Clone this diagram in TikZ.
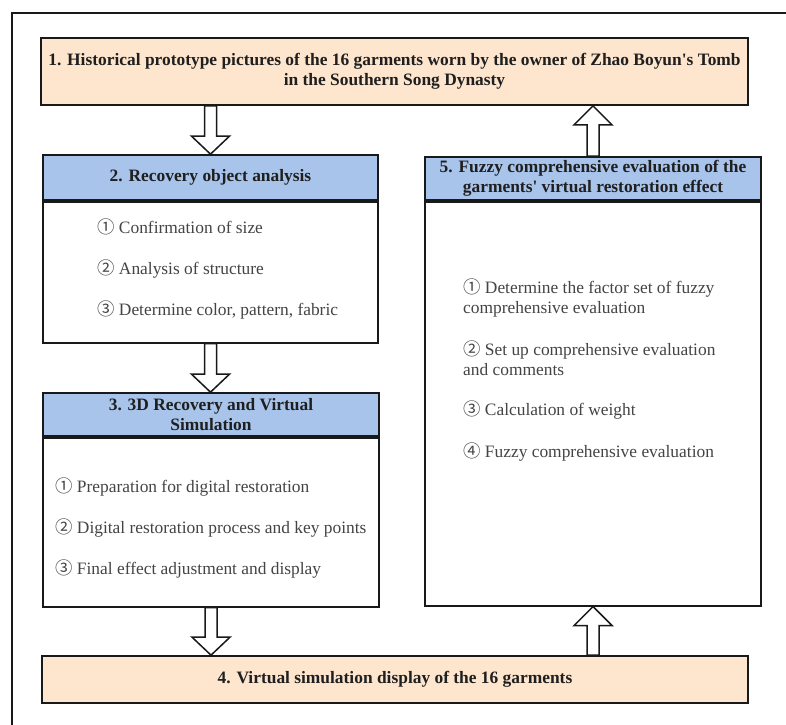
\documentclass[tikz,border=0pt]{standalone}
\usepackage{fontspec}
\setmainfont{Liberation Serif}[Ligatures=TeXOff]
\newfontfamily\circfont{Noto Sans CJK SC}
\usetikzlibrary{calc}
\definecolor{peach}{RGB}{253,229,206}
\definecolor{headblue}{RGB}{169,196,235}
\definecolor{itemgray}{RGB}{68,68,68}
\definecolor{edge}{RGB}{25,25,25}
\newcommand{\cnum}[1]{{\circfont #1}}

\begin{document}
\begin{tikzpicture}[x=1pt, y=-1pt,
    box/.style={rectangle, draw=edge, line width=1.7pt, inner sep=0pt},
    head/.style={box, fill=headblue, align=center, text=black!88, font=\fontsize{17.4}{20}\selectfont\bfseries},
    band/.style={box, fill=peach, align=center, text=black!88, font=\fontsize{17.4}{20}\selectfont\bfseries},
    body/.style={box, fill=white},
    items/.style={anchor=base west, align=left, inner sep=0pt, text=itemgray, font=\fontsize{17.4}{20}\selectfont},
    fatdown/.style={draw=edge, line width=1.5pt, fill=white, to path={
        ($(\tikztostart)+(-6,0)$) -- ($(\tikztotarget)+(-6,-18)$) -- ($(\tikztotarget)+(-19,-18)$)
        -- (\tikztotarget) -- ($(\tikztotarget)+(19,-18)$) -- ($(\tikztotarget)+(6,-18)$)
        -- ($(\tikztostart)+(6,0)$) -- cycle}},
    fatup/.style={draw=edge, line width=1.5pt, fill=white, to path={
        ($(\tikztostart)+(-6,0)$) -- ($(\tikztotarget)+(-6,19)$) -- ($(\tikztotarget)+(-19,19)$)
        -- (\tikztotarget) -- ($(\tikztotarget)+(19,19)$) -- ($(\tikztotarget)+(6,19)$)
        -- ($(\tikztostart)+(6,0)$) -- cycle}}
]
\useasboundingbox (0,0) rectangle (786,724);

% Frame
\draw[edge, line width=1.7pt] (12,740) -- (12,13) -- (800,13);

% Top and bottom bands
\node[band, minimum width=707pt, minimum height=67pt] (box1) at (394.5,71.5)
    {1. Historical prototype pictures of the 16 garments worn by the owner of Zhao Boyun's Tomb\\in the Southern Song Dynasty};
\node[band, minimum width=706pt, minimum height=47pt] (box4) at (395,679.5)
    {4. Virtual simulation display of the 16 garments};

% Recovery object analysis
\node[head, minimum width=335pt, minimum height=45pt] (hdr2) at (210.5,177.5) {2. Recovery object analysis};
\node[body, minimum width=335pt, minimum height=141pt, anchor=north] (body2) at (hdr2.south) {};
\node[items] (items2) at (97,315)
    {\cnum{①} Confirmation of size\\[21pt]\cnum{②} Analysis of structure\\[21pt]\cnum{③} Determine color, pattern, fabric};

% 3D Recovery
\node[head, minimum width=336pt, minimum height=43pt] (hdr3) at (211,414.5) {3. 3D Recovery and Virtual\\Simulation};
\node[body, minimum width=336pt, minimum height=169pt, anchor=north] (body3) at (hdr3.south) {};
\node[items] (items3) at (55,574)
    {\cnum{①} Preparation for digital restoration\\[21pt]\cnum{②} Digital restoration process and key points\\[21pt]\cnum{③} Final effect adjustment and display};

% Fuzzy evaluation
\node[head, minimum width=336pt, minimum height=43pt] (hdr5) at (593,178.5) {5. Fuzzy comprehensive evaluation of the\\garments' virtual restoration effect};
\node[body, minimum width=336pt, minimum height=404pt, anchor=north] (body5) at (hdr5.south) {};
\node[items] (items5) at (463,457)
    {\cnum{①} Determine the factor set of fuzzy\\comprehensive evaluation\\[22pt]\cnum{②} Set up comprehensive evaluation\\and comments\\[20pt]\cnum{③} Calculation of weight\\[22pt]\cnum{④} Fuzzy comprehensive evaluation};

% Arrows
\draw[fatdown] (box1.south -| hdr2.north) to (hdr2.north);
\draw[fatdown] (body2.south) to (body2.south |- hdr3.north);
\draw[fatdown] (body3.south) to (body3.south |- box4.north);
\draw[fatup] (box4.north -| body5.south) to (body5.south);
\draw[fatup] (hdr5.north) to (hdr5.north |- box1.south);

\end{tikzpicture}
\end{document}
